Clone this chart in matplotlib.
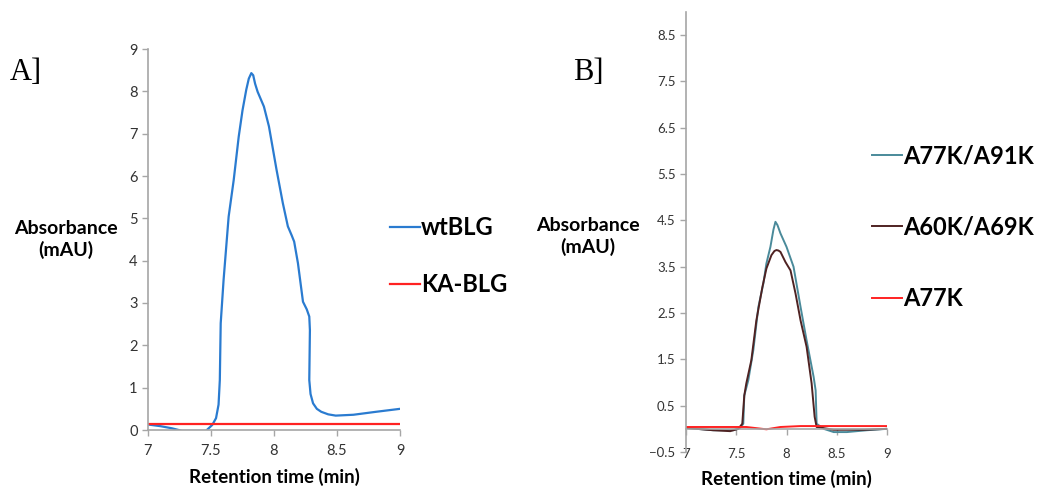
import matplotlib.pyplot as plt
import numpy as np

plt.rcParams['font.family'] = ['Lato', 'DejaVu Sans']

# panel A
a_time = [7.0, 7.1, 7.19, 7.27, 7.46, 7.51, 7.54, 7.56, 7.57, 7.577, 7.60, 7.64, 7.68, 7.72, 7.75, 7.78,
          7.80, 7.82, 7.835, 7.85, 7.87, 7.92, 7.96, 8.02, 8.07, 8.11, 8.14, 8.16, 8.19, 8.23, 8.26,
          8.28, 8.285, 8.28, 8.29, 8.31, 8.34, 8.375, 8.43, 8.49, 8.63, 8.81, 9.0]
wt_blg = [0.13, 0.09, 0.04, -0.02, -0.02, 0.12, 0.28, 0.6, 1.18, 2.52, 3.55, 5.04, 5.9, 6.93, 7.55, 8.04,
          8.3, 8.43, 8.38, 8.18, 7.99, 7.64, 7.17, 6.15, 5.36, 4.81, 4.6, 4.45, 3.94, 3.03, 2.85,
          2.68, 2.36, 1.18, 0.85, 0.63, 0.5, 0.43, 0.37, 0.34, 0.36, 0.43, 0.50]
ka_time = [7.0, 9.0]
ka_blg = [0.13, 0.13]

# panel B
b_time1 = [7.0, 7.27, 7.47, 7.54, 7.57, 7.58, 7.62, 7.67, 7.72, 7.77, 7.80, 7.84, 7.87, 7.89, 7.91, 7.94, 8.0,
           8.07, 8.14, 8.20, 8.27, 8.29, 8.30, 8.37, 8.47, 8.6, 8.8, 9.0]
a77k_a91k = [0.02, -0.03, -0.03, 0.02, 0.11, 0.72, 1.05, 1.7, 2.63, 3.14, 3.57, 3.93, 4.3, 4.47, 4.4, 4.22, 3.93,
             3.5, 2.63, 1.91, 1.12, 0.83, 0.11, 0.0, -0.07, -0.07, -0.03, 0.0]
b_time2 = [7.0, 7.27, 7.44, 7.52, 7.56, 7.58, 7.60, 7.65, 7.70, 7.76, 7.80, 7.85, 7.88, 7.90, 7.92, 7.94, 7.99,
           8.04, 8.09, 8.14, 8.20, 8.25, 8.28, 8.30, 8.47, 8.77, 9.0]
a60k_a69k = [0.02, -0.03, -0.05, 0.0, 0.11, 0.72, 0.98, 1.48, 2.34, 3.06, 3.46, 3.75, 3.84, 3.86, 3.85, 3.82, 3.6,
             3.42, 2.92, 2.34, 1.77, 0.98, 0.26, 0.04, -0.02, -0.02, 0.0]
b_time3 = [7.0, 7.6, 7.8, 7.94, 8.14, 9.0]
a77k = [0.04, 0.04, -0.01, 0.04, 0.06, 0.06]

grey = '#a6a6a6'
fig = plt.figure(figsize=(10.42, 4.9), dpi=100)

axA = fig.add_axes([148 / 1042, 1 - 430 / 490, 252 / 1042, 381 / 490])
axA.plot(a_time, wt_blg, color='#2a7bd0', lw=1.6, label='wtBLG')
axA.plot(ka_time, ka_blg, color='#ff2222', lw=1.6, label='KA-BLG')
axA.set_xlim(7, 9)
axA.set_ylim(0, 9)
axA.set_xticks([7, 7.5, 8, 8.5, 9])
axA.set_xticklabels(['7', '7.5', '8', '8.5', '9'])
axA.set_yticks(range(10))

axB = fig.add_axes([686 / 1042, 1 - 452 / 490, 201 / 1042, 440 / 490])
axB.plot(b_time1, a77k_a91k, color='#4a8a9a', lw=1.4, label='A77K/A91K')
axB.plot(b_time2, a60k_a69k, color='#4f2222', lw=1.4, label='A60K/A69K')
axB.plot(b_time3, a77k, color='#ff2222', lw=1.4, label='A77K')
axB.set_xlim(7, 9)
axB.set_ylim(-0.5, 9)
axB.set_xticks([7, 7.5, 8, 8.5, 9])
axB.set_xticklabels(['7', '7.5', '8', '8.5', '9'])
axB.set_yticks(np.arange(-0.5, 9, 1.0))
axB.spines['bottom'].set_position(('data', 0))

for ax in (axA, axB):
    for s in ('top', 'right'):
        ax.spines[s].set_visible(False)
    for s in ('left', 'bottom'):
        ax.spines[s].set_color(grey)
        ax.spines[s].set_linewidth(1.2)
    ax.tick_params(color=grey, length=4, width=1, labelsize=10.5, labelcolor='#333333')
    ax.set_xlabel('Retention time (min)', fontsize=13.5, fontweight='bold')
    ax.set_ylabel('Absorbance\n(mAU)', fontsize=14, fontweight='bold', rotation=0,
                  ha='center', va='center', linespacing=1.3)

axA.tick_params(axis='x', pad=6)
axA.xaxis.set_label_coords(0.5, -0.1)
axA.yaxis.set_label_coords(-0.325, 0.5)

axB.tick_params(labelsize=9.5)
axB.tick_params(axis='x', pad=10)
axB.xaxis.set_label_coords(0.5, -0.04)
axB.yaxis.set_label_coords(-0.49, 0.49)

axA.legend(loc='center left', bbox_to_anchor=(390 / 1042, 1 - 256 / 490), bbox_transform=fig.transFigure,
           frameon=False, borderpad=0, borderaxespad=0, handlelength=1.27, handletextpad=0.05,
           labelspacing=1.46, prop={'size': 17, 'weight': 'bold'})
axB.legend(loc='center left', bbox_to_anchor=(872 / 1042, 1 - 227 / 490), bbox_transform=fig.transFigure,
           frameon=False, borderpad=0, borderaxespad=0, handlelength=1.27, handletextpad=0.05,
           labelspacing=2.05, prop={'size': 17, 'weight': 'bold'})

fig.text(10 / 1042, 1 - 73 / 490, 'A]', fontsize=22, family='Liberation Serif', va='center')
fig.text(573 / 1042, 1 - 73 / 490, 'B]', fontsize=22, family='Liberation Serif', va='center')

fig.savefig('out.png', dpi=100)
